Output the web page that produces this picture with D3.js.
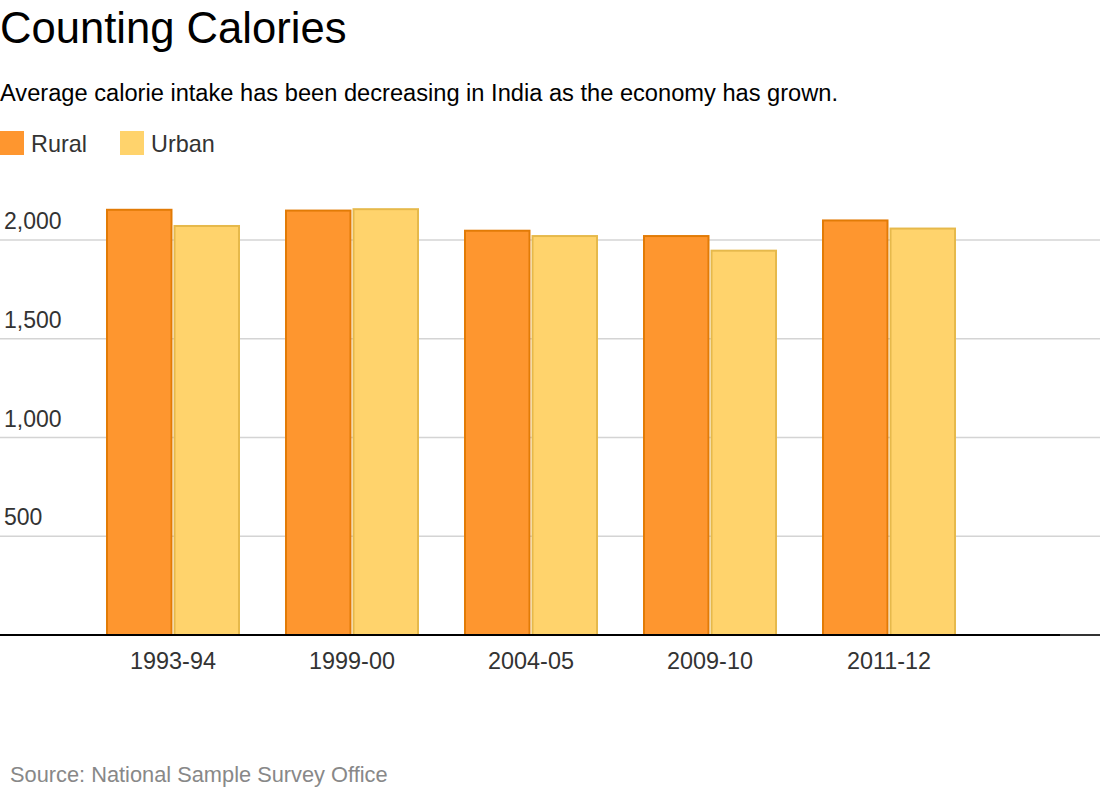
<!DOCTYPE html>
<html><head><meta charset="utf-8">
<script src="https://cdn.jsdelivr.net/npm/d3@7"></script>
<style>body{margin:0;background:#fff;font-family:"Liberation Sans",Arial,sans-serif;}</style>
</head><body>
<svg id="c" width="1100" height="800"></svg>
<script>
const categories = ["1993-94","1999-00","2004-05","2009-10","2011-12"];
const rural = [2153, 2149, 2047, 2020, 2099];
const urban = [2071, 2156, 2020, 1946, 2058];
const seriesNames = ["Rural","Urban"];
const yTicks = [500, 1000, 1500, 2000];

const svg = d3.select("#c");
const fills = ["#fe962f","#ffd36c"];
const strokes = ["#e27b06","#e6b94b"];

svg.append("text").attr("x",0).attr("y",43).attr("font-size",43.6).attr("fill","#000").text("Counting Calories");
svg.append("text").attr("x",0).attr("y",101).attr("font-size",23.65).attr("fill","#000")
  .text("Average calorie intake has been decreasing in India as the economy has grown.");

const lg = svg.append("g");
[0,120].forEach((x,i)=>{
  lg.append("rect").attr("x",x).attr("y",131).attr("width",24).attr("height",24).attr("fill",fills[i]);
  lg.append("text").attr("x",x+31).attr("y",152).attr("font-size",23.4).attr("fill","#333").text(seriesNames[i]);
});

const y = d3.scaleLinear().domain([0,2000]).range([635,240]);
const x = d3.scaleBand().domain(categories).range([83.5,978.5]).paddingInner(0.2514).paddingOuter(0.1257);
const x1 = d3.scaleBand().domain(seriesNames).range([0,x.bandwidth()]).paddingInner(0.015);

const grid = svg.append("g");
yTicks.forEach(t=>{
  grid.append("line").attr("x1",0).attr("x2",1100).attr("y1",y(t)).attr("y2",y(t)).attr("stroke","#d4d4d4").attr("stroke-width",1.5);
  grid.append("text").attr("x",4).attr("y",y(t)-11).attr("font-size",23).attr("fill","#333").text(d3.format(",")(t));
});

const data = [rural, urban];
const bars = svg.append("g");
categories.forEach((c,i)=>{
  seriesNames.forEach((s,j)=>{
    bars.append("rect")
      .attr("x",x(c)+x1(s)+1).attr("y",y(data[j][i]))
      .attr("width",x1.bandwidth()-2).attr("height",y(0)-y(data[j][i]))
      .attr("fill",fills[j]).attr("stroke",strokes[j]).attr("stroke-width",2);
  });
});

svg.append("line").attr("x1",0).attr("x2",1060).attr("y1",635).attr("y2",635).attr("stroke","#000").attr("stroke-width",2);
svg.append("line").attr("x1",1060).attr("x2",1100).attr("y1",635).attr("y2",635).attr("stroke","#333").attr("stroke-width",2);

const xa = svg.append("g");
categories.forEach(c=>{
  xa.append("text").attr("x",x(c)+x.bandwidth()/2).attr("y",669).attr("text-anchor","middle")
    .attr("font-size",23.4).attr("fill","#333").text(c);
});

svg.append("text").attr("x",10).attr("y",782).attr("font-size",21.8).attr("fill","#888").text("Source: National Sample Survey Office");
</script>
</body></html>
